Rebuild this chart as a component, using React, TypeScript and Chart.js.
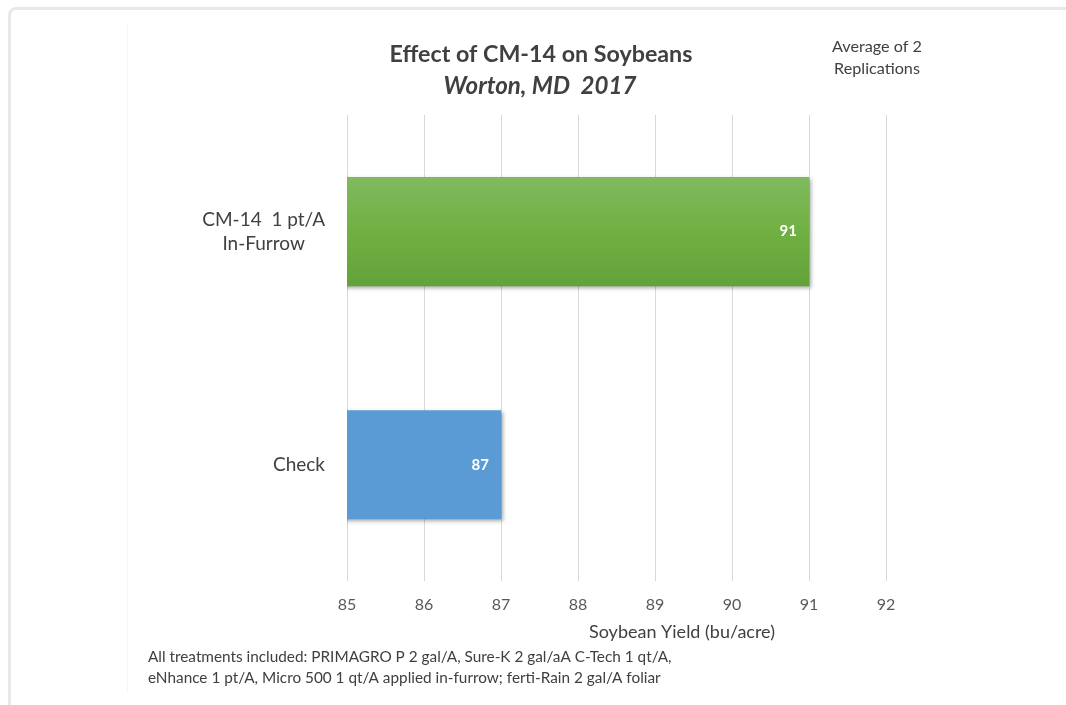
import React, { useEffect, useRef } from "react";
import { Chart, registerables } from "chart.js";

Chart.register(...registerables);

const categories: string[][] = [["CM-14  1 pt/A", "In-Furrow"], ["Check"]];
const yieldValues: number[] = [91, 87];
const xTicks: number[] = [85, 86, 87, 88, 89, 90, 91, 92];
const titleText = "Effect of CM-14 on Soybeans";
const subtitleText = "Worton, MD  2017";
const noteLines = ["Average of 2", "Replications"];
const xTitle = "Soybean Yield (bu/acre)";
const footLines = [
  "All treatments included: PRIMAGRO P 2 gal/A, Sure-K 2 gal/aA C-Tech 1 qt/A,",
  "eNhance 1 pt/A, Micro 500 1 qt/A applied in-furrow; ferti-Rain 2 gal/A foliar",
];

const FONT = "Lato, 'Open Sans', sans-serif";
const TEXT = "#404040";

function fitSize(ctx: CanvasRenderingContext2D, text: string, style: string, target: number) {
  ctx.font = `${style} 20px ${FONT}`;
  const w = ctx.measureText(text).width;
  return (20 * target) / w;
}

function drawText(
  ctx: CanvasRenderingContext2D,
  text: string,
  style: string,
  size: number,
  x: number,
  y: number,
  align: CanvasTextAlign
) {
  ctx.font = `${style} ${size.toFixed(2)}px ${FONT}`;
  ctx.textAlign = align;
  ctx.textBaseline = "middle";
  ctx.fillText(text, x, y);
}

const textPlugin = {
  id: "textPlugin",
  afterDraw(chart: any) {
    const ctx: CanvasRenderingContext2D = chart.ctx;
    ctx.save();
    ctx.fillStyle = TEXT;
    drawText(ctx, titleText, "bold", fitSize(ctx, titleText, "bold", 303), 541, 55, "center");
    drawText(ctx, subtitleText, "italic bold", fitSize(ctx, subtitleText, "italic bold", 193), 540, 86, "center");
    const ns = fitSize(ctx, noteLines[0], "normal", 90);
    drawText(ctx, noteLines[0], "normal", ns, 877, 47, "center");
    drawText(ctx, noteLines[1], "normal", ns, 877, 69, "center");
    drawText(ctx, xTitle, "normal", fitSize(ctx, xTitle, "normal", 186), 682, 632, "center");
    const fs = fitSize(ctx, footLines[0], "normal", 524);
    drawText(ctx, footLines[0], "normal", fs, 148, 657, "left");
    drawText(ctx, footLines[1], "normal", fs, 148, 678, "left");

    // category labels
    const yScale = chart.scales.y;
    const right = 325;
    ctx.font = `normal 19px ${FONT}`;
    ctx.textAlign = "center";
    ctx.textBaseline = "middle";
    categories.forEach((lines, i) => {
      const yc = yScale.getPixelForValue(i);
      const maxW = Math.max(...lines.map((l) => ctx.measureText(l).width));
      const cx = right - maxW / 2;
      const lh = 24;
      const y0 = yc - ((lines.length - 1) * lh) / 2;
      lines.forEach((l, k) => ctx.fillText(l, cx, y0 + k * lh));
    });

    // value labels
    const meta = chart.getDatasetMeta(0);
    ctx.fillStyle = "#ffffff";
    ctx.font = `bold 15px ${FONT}`;
    ctx.textAlign = "right";
    meta.data.forEach((el: any, i: number) => {
      ctx.fillText(String(yieldValues[i]), el.x - 12, el.y);
    });
    ctx.restore();
  },
};

const shadowPlugin = {
  id: "shadowPlugin",
  beforeDatasetsDraw(chart: any) {
    const ctx = chart.ctx;
    ctx.save();
    ctx.shadowColor = "rgba(0,0,0,0.35)";
    ctx.shadowBlur = 4;
    ctx.shadowOffsetX = 1.5;
    ctx.shadowOffsetY = 2;
  },
  afterDatasetsDraw(chart: any) {
    chart.ctx.restore();
  },
};

export default function App() {
  const ref = useRef<HTMLCanvasElement | null>(null);
  useEffect(() => {
    if (!ref.current) return;
    const BAR_PCT = 0.585;
    const CAT_PCT = 0.8;
    const chart = new Chart(ref.current, {
      type: "bar",
      data: {
        labels: categories.map((c) => c.join(" ")),
        datasets: [
          {
            data: yieldValues,
            barPercentage: BAR_PCT,
            categoryPercentage: CAT_PCT,
            borderWidth: 0,
            backgroundColor: (c: any) => {
              const chartObj = c.chart;
              const ys = chartObj.scales && chartObj.scales.y;
              if (c.dataIndex === 1) return "#5b9bd5";
              if (!ys || !ys.height) return "#70ad47";
              const yc = ys.getPixelForValue(c.dataIndex);
              const half = ((ys.height / categories.length) * BAR_PCT * CAT_PCT) / 2;
              const g = chartObj.ctx.createLinearGradient(0, yc - half, 0, yc + half);
              g.addColorStop(0, "#80ba5e");
              g.addColorStop(0.5, "#70b042");
              g.addColorStop(1, "#62a23a");
              return g;
            },
          },
        ],
      },
      options: {
        indexAxis: "y",
        animation: false,
        responsive: false,
        maintainAspectRatio: false,
        layout: { padding: { left: 347, right: 180, top: 115, bottom: 76.5 } },
        plugins: {
          legend: { display: false },
          title: { display: false },
          tooltip: { enabled: false },
        },
        scales: {
          x: {
            type: "linear",
            min: xTicks[0],
            max: xTicks[xTicks.length - 1],
            afterBuildTicks: (axis: any) => {
              axis.ticks = xTicks.map((v) => ({ value: v }));
            },
            grid: { color: "#d9d9d9", drawTicks: false, lineWidth: 1 },
            border: { display: false },
            ticks: {
              padding: 14,
              color: "#595959",
              font: { family: FONT, size: 16 },
            },
          },
          y: {
            type: "category",
            display: false,
          },
        },
      },
      plugins: [shadowPlugin, textPlugin],
    } as any);
    return () => chart.destroy();
  }, []);

  return (
    <div
      style={{
        position: "fixed",
        left: 0,
        top: 0,
        width: 1066,
        height: 705,
        overflow: "hidden",
        background: "#ffffff",
      }}
    >
      <div
        style={{
          position: "absolute",
          left: 8,
          top: 7,
          width: 1100,
          height: 760,
          border: "3px solid #e8e8e8",
          borderRadius: 8,
          boxSizing: "border-box",
        }}
      />
      <div
        style={{
          position: "absolute",
          left: 127,
          top: 25,
          width: 1,
          height: 667,
          background: "#f5f5f5",
        }}
      />
      <canvas
        ref={ref}
        width={1066}
        height={705}
        style={{ position: "absolute", left: 0, top: 0, width: 1066, height: 705 }}
      />
    </div>
  );
}
